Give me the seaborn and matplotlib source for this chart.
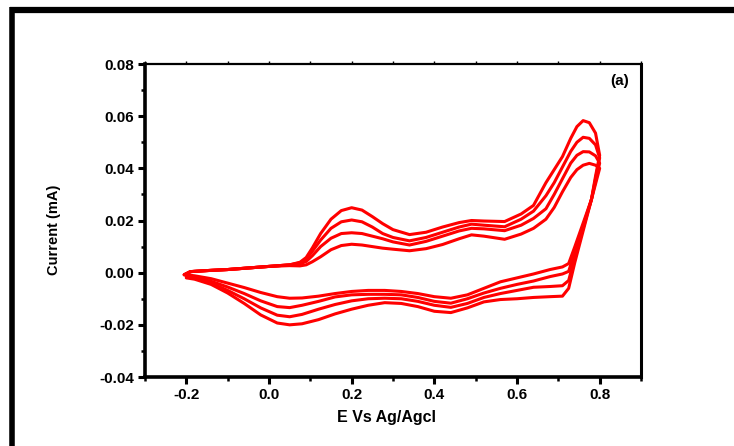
import numpy as np
import pandas as pd
import matplotlib
matplotlib.use("Agg")
import matplotlib.pyplot as plt
from matplotlib.lines import Line2D
from matplotlib.ticker import MultipleLocator
import seaborn as sns

# potential grids (V vs Ag/AgCl)
e_fwd = [-0.205, -0.19, -0.15, -0.10, -0.05, 0.0, 0.05, 0.075, 0.09, 0.105, 0.125, 0.15, 0.175,
         0.20, 0.225, 0.25, 0.275, 0.30, 0.34, 0.38, 0.42, 0.46, 0.49, 0.52, 0.57, 0.61,
         0.64, 0.67, 0.69, 0.71, 0.73, 0.745, 0.76, 0.775, 0.79, 0.80]
e_rev = [0.80, 0.79, 0.78, 0.76, 0.74, 0.725, 0.71, 0.68, 0.64, 0.60, 0.56, 0.52, 0.48, 0.44,
         0.40, 0.36, 0.32, 0.28, 0.24, 0.20, 0.16, 0.12, 0.08, 0.05, 0.02, -0.02, -0.06,
         -0.10, -0.14, -0.18, -0.20]

# anodic currents (mA), outer loop first
i_fwd_1 = [-0.0008, 0.0004, 0.0008, 0.0012, 0.0018, 0.0024, 0.0030, 0.0040, 0.0058, 0.0095,
           0.0150, 0.0205, 0.0238, 0.0249, 0.0240, 0.0215, 0.0188, 0.0165, 0.0146, 0.0155,
           0.0175, 0.0192, 0.0200, 0.0198, 0.0196, 0.0225, 0.0258, 0.0345, 0.0395, 0.0445,
           0.0515, 0.0560, 0.0583, 0.0575, 0.0535, 0.0450]
i_fwd_2 = [-0.0008, 0.0004, 0.0008, 0.0012, 0.0018, 0.0024, 0.0030, 0.0038, 0.0052, 0.0082,
           0.0125, 0.0170, 0.0195, 0.0202, 0.0195, 0.0175, 0.0150, 0.0135, 0.0122, 0.0135,
           0.0155, 0.0175, 0.0186, 0.0182, 0.0176, 0.0205, 0.0236, 0.0295, 0.0345, 0.0405,
           0.0465, 0.0500, 0.0519, 0.0515, 0.0490, 0.0440]
i_fwd_3 = [-0.0008, 0.0004, 0.0008, 0.0012, 0.0018, 0.0024, 0.0030, 0.0034, 0.0043, 0.0065,
           0.0100, 0.0132, 0.0150, 0.0153, 0.0150, 0.0140, 0.0130, 0.0118, 0.0106, 0.0120,
           0.0140, 0.0160, 0.0170, 0.0168, 0.0161, 0.0182, 0.0208, 0.0245, 0.0300, 0.0360,
           0.0420, 0.0450, 0.0464, 0.0463, 0.0448, 0.0420]
i_fwd_4 = [-0.0008, 0.0004, 0.0008, 0.0012, 0.0018, 0.0024, 0.0027, 0.0026, 0.0030, 0.0042,
           0.0061, 0.0088, 0.0104, 0.0109, 0.0106, 0.0100, 0.0094, 0.0090, 0.0084, 0.0092,
           0.0108, 0.0130, 0.0145, 0.0140, 0.0128, 0.0148, 0.0170, 0.0205, 0.0250, 0.0310,
           0.0365, 0.0395, 0.0412, 0.0419, 0.0412, 0.0400]

# cathodic currents (mA)
i_rev_1 = [0.045, 0.037, 0.028, 0.016, 0.004, -0.006, -0.0090, -0.0092, -0.0095, -0.0100,
           -0.0103, -0.0112, -0.0135, -0.0153, -0.0148, -0.0130, -0.0118, -0.0115, -0.0125,
           -0.0140, -0.0158, -0.0180, -0.0196, -0.0200, -0.0193, -0.0162, -0.0118, -0.0078,
           -0.0045, -0.0025, -0.0020]
i_rev_2 = [0.044, 0.036, 0.028, 0.017, 0.006, -0.003, -0.0050, -0.0053, -0.0056, -0.0068,
           -0.0080, -0.0095, -0.0118, -0.0133, -0.0125, -0.0110, -0.0100, -0.0098, -0.0100,
           -0.0108, -0.0122, -0.0140, -0.0160, -0.0169, -0.0163, -0.0135, -0.0100, -0.0068,
           -0.0040, -0.0022, -0.0016]
i_rev_3 = [0.042, 0.035, 0.028, 0.018, 0.008, 0.0005, -0.0005, -0.0015, -0.0032, -0.0045,
           -0.0060, -0.0078, -0.0100, -0.0117, -0.0110, -0.0095, -0.0085, -0.0083, -0.0083,
           -0.0085, -0.0093, -0.0110, -0.0125, -0.0134, -0.0130, -0.0108, -0.0080, -0.0055,
           -0.0033, -0.0018, -0.0012]
i_rev_4 = [0.040, 0.034, 0.028, 0.019, 0.010, 0.0035, 0.0022, 0.0012, -0.0005, -0.0020,
           -0.0035, -0.0060, -0.0085, -0.0098, -0.0092, -0.0080, -0.0072, -0.0068, -0.0068,
           -0.0072, -0.0080, -0.0090, -0.0097, -0.0098, -0.0092, -0.0076, -0.0057, -0.0040,
           -0.0023, -0.0012, -0.0008]

cycles = [(i_fwd_1, i_rev_1), (i_fwd_2, i_rev_2), (i_fwd_3, i_rev_3), (i_fwd_4, i_rev_4)]

frames = []
for n, (f, r) in enumerate(cycles):
    frames.append(pd.DataFrame({"E": e_fwd + e_rev, "I": f + r, "cycle": n + 1}))
df = pd.concat(frames, ignore_index=True)

sns.set_style("ticks")
plt.rcParams["font.family"] = ["Liberation Sans", "DejaVu Sans"]
plt.rcParams.update({"text.color": "black", "axes.labelcolor": "black",
                     "xtick.color": "black", "ytick.color": "black"})

fig = plt.figure(figsize=(7.34, 4.46), dpi=100)
ax = fig.add_axes([0.1975, 0.1547, 0.6758, 0.7018])

for n in range(1, 5):
    sub = df[df.cycle == n]
    sns.lineplot(data=sub, x="E", y="I", sort=False, estimator=None, color="#ff0000",
                 linewidth=2.2, ax=ax)

ax.set_xlim(-0.3, 0.9)
ax.set_ylim(-0.04, 0.08)
ax.xaxis.set_minor_locator(MultipleLocator(0.1))
ax.yaxis.set_minor_locator(MultipleLocator(0.01))
ax.set_xticks([-0.2, 0.0, 0.2, 0.4, 0.6, 0.8])
ax.set_xticklabels(["-0.2", "0.0", "0.2", "0.4", "0.6", "0.8"])
ax.set_yticks([-0.04, -0.02, 0.0, 0.02, 0.04, 0.06, 0.08])
ax.set_yticklabels(["-0.04", "-0.02", "0.00", "0.02", "0.04", "0.06", "0.08"])

for lab in ax.get_xticklabels() + ax.get_yticklabels():
    lab.set_fontweight("bold")
    lab.set_fontsize(11)

ax.tick_params(which="major", direction="out", length=5, width=2.2, pad=3)
ax.tick_params(which="minor", direction="out", length=3, width=1.8)
ax.tick_params(which="both", axis="x", top=True)
for t in ax.xaxis.get_ticklines(minor=False)[1::2] + ax.xaxis.get_ticklines(minor=True)[1::2]:
    t.set_markersize(2)
    t.set_markeredgewidth(1)

ax.spines["left"].set_linewidth(2.6)
ax.spines["bottom"].set_linewidth(2.6)
ax.spines["top"].set_linewidth(1.6)
ax.spines["right"].set_linewidth(2.2)
for s in ax.spines.values():
    s.set_color("black")

ax.set_xlabel("E Vs Ag/Agcl", fontsize=11.5, fontweight="bold")
ax.xaxis.set_label_coords(0.487, -0.105)
ax.set_ylabel("Current (mA)", fontsize=10.5, fontweight="bold")
ax.yaxis.set_label_coords(-0.17, 0.47)
ax.text(0.975, 0.945, "(a)", transform=ax.transAxes, ha="right", va="center",
        fontsize=11, fontweight="bold")

# outer frame (top and left only, as in the cropped original)
fig.add_artist(Line2D([0.013, 1.0], [0.978, 0.978], transform=fig.transFigure,
                      color="black", linewidth=4.5, solid_capstyle="butt"))
fig.add_artist(Line2D([0.017, 0.017], [0.0, 0.985], transform=fig.transFigure,
                      color="black", linewidth=4, solid_capstyle="butt"))

fig.savefig("out.png", dpi=100)
